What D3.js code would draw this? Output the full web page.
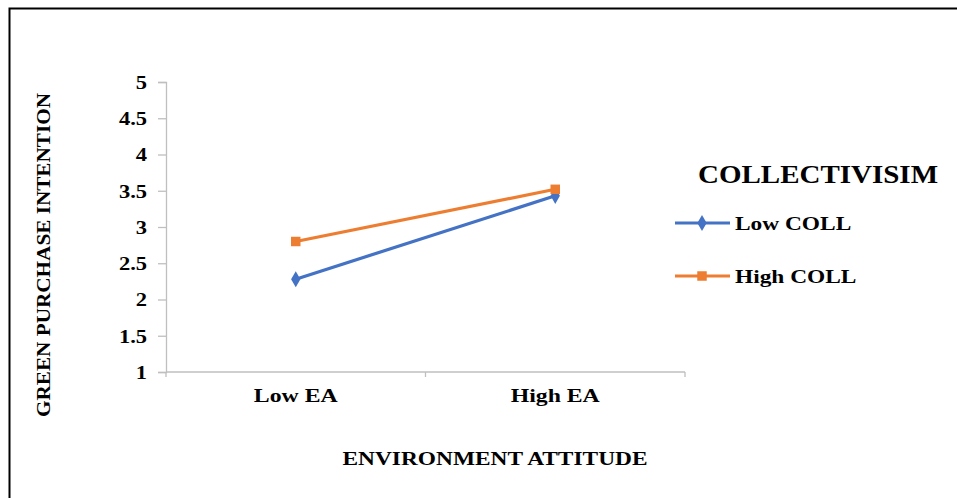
<!DOCTYPE html>
<html>
<head>
<meta charset="utf-8">
<script src="https://cdn.jsdelivr.net/npm/d3@7"></script>
<style>
html,body{margin:0;padding:0;background:#fff;}
svg{display:block;}
text{font-family:"Liberation Serif","Times New Roman",serif;font-weight:bold;fill:#000;}
</style>
</head>
<body>
<script>
const categories = ["Low EA", "High EA"];
const seriesNames = ["Low COLL", "High COLL"];
const lowColl = [2.28, 3.43];
const highColl = [2.80, 3.52];
const yTicks = [1, 1.5, 2, 2.5, 3, 3.5, 4, 4.5, 5];
const yTickLabels = ["1", "1.5", "2", "2.5", "3", "3.5", "4", "4.5", "5"];
const colors = ["#4472C4", "#ED7D31"];
const yTitle = "GREEN PURCHASE INTENTION";
const xTitle = "ENVIRONMENT ATTITUDE";
const legendTitle = "COLLECTIVISIM";

const W = 957, H = 498;
const svg = d3.select("body").append("svg").attr("width", W).attr("height", H);

function stretch(sel, f) {
  sel.each(function () {
    const w = this.getComputedTextLength();
    d3.select(this).attr("textLength", w * f).attr("lengthAdjust", "spacingAndGlyphs");
  });
}

// outer border
svg.append("path").attr("d", `M9.5,${H} V8.5 H${W}`).attr("fill", "none").attr("stroke", "#000").attr("stroke-width", 2);

const x = d3.scaleBand().domain(categories).range([166, 685]);
const y = d3.scaleLinear().domain([1, 5]).range([372, 82]);

// y axis
const yAxis = svg.append("g").attr("transform", "translate(166,0)")
  .call(d3.axisLeft(y).tickValues(yTicks).tickFormat((d, i) => yTickLabels[i]).tickSize(8).tickPadding(11));
yAxis.select(".domain").attr("stroke", "#bfbfbf").attr("stroke-width", 1.3);
yAxis.selectAll(".tick line").attr("stroke", "#bfbfbf").attr("stroke-width", 1.3);
yAxis.selectAll(".tick text").style("font-size", "18px").style("font-family", "Liberation Serif").style("font-weight", "bold").attr("fill", "#000").attr("dy", "0.36em");
stretch(yAxis.selectAll(".tick text"), 1.25);

// x axis
const xAxisG = svg.append("g").attr("transform", "translate(0,372)");
xAxisG.append("line").attr("x1", x.range()[0]).attr("x2", x.range()[1]).attr("stroke", "#bfbfbf").attr("stroke-width", 1.3);
const bounds = categories.map(c => x(c)).concat([x.range()[1]]);
xAxisG.selectAll(".xt").data(bounds).enter().append("line")
  .attr("x1", d => d).attr("x2", d => d).attr("y1", 0).attr("y2", 5)
  .attr("stroke", "#bfbfbf").attr("stroke-width", 1.3);
const xl = xAxisG.selectAll(".xl").data(categories).enter().append("text")
  .attr("x", d => x(d) + x.bandwidth() / 2).attr("y", 30)
  .attr("text-anchor", "middle").style("font-size", "19px").text(d => d);
stretch(xl, 1.25);

// series
const series = [lowColl, highColl];
const line = d3.line().x((d, i) => x(categories[i]) + x.bandwidth() / 2).y(d => y(d));
series.forEach((vals, si) => {
  svg.append("path").datum(vals).attr("d", line).attr("fill", "none")
    .attr("stroke", colors[si]).attr("stroke-width", 3.2);
});
const symSizes = [75, 90];
series.forEach((vals, si) => {
  svg.selectAll(".m" + si).data(vals).enter().append("path")
    .attr("transform", (d, i) => `translate(${x(categories[i]) + x.bandwidth() / 2},${y(d)})`)
    .attr("d", d3.symbol().type(si === 0 ? d3.symbolDiamond : d3.symbolSquare).size(symSizes[si])())
    .attr("fill", colors[si]);
});

// axis titles
svg.append("text").attr("transform", "translate(50,255) rotate(-90)")
  .attr("text-anchor", "middle").style("font-size", "19px")
  .attr("textLength", 324).attr("lengthAdjust", "spacingAndGlyphs").text(yTitle);
svg.append("text").attr("x", 495).attr("y", 465)
  .attr("text-anchor", "middle").style("font-size", "19px")
  .attr("textLength", 305).attr("lengthAdjust", "spacingAndGlyphs").text(xTitle);

// legend
svg.append("text").attr("x", 698).attr("y", 183).style("font-size", "25px")
  .attr("textLength", 240).attr("lengthAdjust", "spacingAndGlyphs").text(legendTitle);
const legY = [223, 276];
seriesNames.forEach((name, si) => {
  const g = svg.append("g").attr("transform", `translate(0,${legY[si]})`);
  g.append("line").attr("x1", 675).attr("x2", 730).attr("stroke", colors[si]).attr("stroke-width", 3.2);
  g.append("path").attr("transform", "translate(702,0)")
    .attr("d", d3.symbol().type(si === 0 ? d3.symbolDiamond : d3.symbolSquare).size(symSizes[si])())
    .attr("fill", colors[si]);
  const t = g.append("text").attr("x", 735).attr("y", 7).style("font-size", "19px").text(name);
  stretch(t, 1.23);
});
</script>
</body>
</html>
